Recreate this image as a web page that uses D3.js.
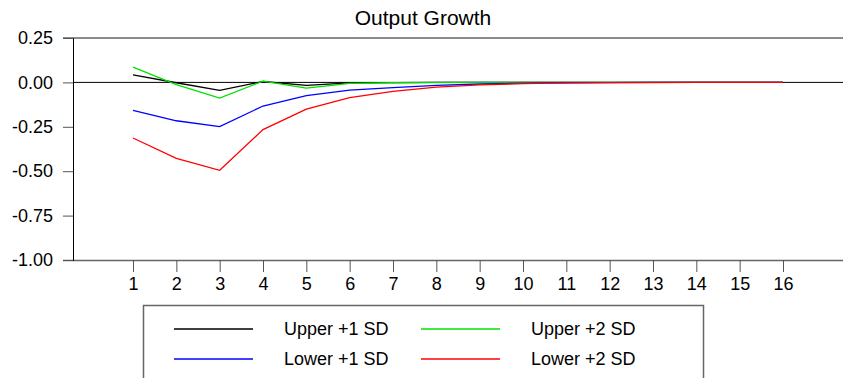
<!DOCTYPE html>
<html>
<head>
<meta charset="utf-8">
<script src="https://cdn.jsdelivr.net/npm/d3@7"></script>
<style>
	body { margin: 0; background: #fff; }
	text { font-family: "Liberation Sans", Arial, sans-serif; fill: #000; }
</style>
</head>
<body>
<div id="chart"></div>
<script>
var periods = [1, 2, 3, 4, 5, 6, 7, 8, 9, 10, 11, 12, 13, 14, 15, 16];
var yTicks = [0.25, 0, -0.25, -0.5, -0.75, -1];
var upper1 = [0.042, -0.002, -0.045, 0.005, -0.017, -0.003, -0.001, 0, 0, 0, 0, 0, 0, 0, 0, 0];
var upper2 = [0.086, -0.012, -0.088, 0.007, -0.032, -0.006, -0.002, -0.001, 0, 0, 0, 0, 0, 0, 0, 0];
var lower1 = [-0.158, -0.216, -0.249, -0.133, -0.075, -0.043, -0.029, -0.017, -0.009, -0.004, -0.002, -0.001, 0, 0, 0, 0];
var lower2 = [-0.313, -0.428, -0.495, -0.266, -0.150, -0.086, -0.050, -0.027, -0.014, -0.007, -0.003, -0.001, -0.001, 0, 0, 0];
var seriesNames = ["Upper +1 SD", "Upper +2 SD", "Lower +1 SD", "Lower +2 SD"];

(function() {
	"use strict";

	var chartWidth = 843,
		chartHeight = 378,
		colors = ["#000000", "#00e000", "#0000ff", "#ff0000"],
		series = [upper1, upper2, lower1, lower2],
		pad = 1.385;

	var svg = d3.select("#chart")
		.append("svg")
		.attr("width", chartWidth)
		.attr("height", chartHeight);

	var x = d3.scaleLinear().domain([1 - pad, 16 + pad]).range([73, 843]),
		y = d3.scaleLinear().domain([-1, 0.25]).range([260, 38]);

	// title
	svg.append("text")
		.attr("x", 423)
		.attr("y", 25)
		.attr("text-anchor", "middle")
		.style("font-size", "21px")
		.text("Output Growth");

	// frame lines
	svg.append("line")
		.attr("x1", 63).attr("x2", 843)
		.attr("y1", y(0.25)).attr("y2", y(0.25))
		.style("stroke", "#666").style("stroke-width", 1.5);
	svg.append("line")
		.attr("x1", 73).attr("x2", 843)
		.attr("y1", y(0)).attr("y2", y(0))
		.style("stroke", "#000").style("stroke-width", 1);

	// y axis
	var yAxis = svg.append("g")
		.attr("transform", "translate(73,0)")
		.call(d3.axisLeft(y).tickValues(yTicks).tickSize(10).tickPadding(10)
			.tickFormat(d3.format(".2f")));
	yAxis.select(".domain").style("stroke", "#000");
	yAxis.selectAll(".tick line").style("stroke", "#555");
	yAxis.selectAll("text")
		.style("font-size", "18px")
		.attr("font-family", null)
		.text(function(d) { return d3.format(".2f")(d).replace("−", "-"); });

	// x axis
	var xAxis = svg.append("g")
		.attr("transform", "translate(0," + y(-1) + ")")
		.call(d3.axisBottom(x).tickValues(periods).tickSize(12).tickPadding(5)
			.tickFormat(d3.format("d")));
	xAxis.select(".domain").attr("d", "M63,0.5H843").style("stroke", "#666").style("stroke-width", 1.5);
	xAxis.selectAll(".tick line").style("stroke", "#555");
	xAxis.selectAll("text")
		.style("font-size", "18px")
		.attr("font-family", null);
	// redraw y domain on top of bottom axis start
	yAxis.raise();

	var line = d3.line()
		.x(function(d, i) { return x(periods[i]); })
		.y(function(d) { return y(d); });

	svg.selectAll(".series")
		.data(series)
		.enter()
		.append("path")
		.attr("class", "series")
		.attr("d", line)
		.style("fill", "none")
		.style("stroke", function(d, i) { return colors[i]; })
		.style("stroke-width", 1.3);

	// legend
	var legendG = svg.append("g");
	legendG.append("rect")
		.attr("x", 143.5).attr("y", 305.5)
		.attr("width", 560).attr("height", 90)
		.style("fill", "none").style("stroke", "#666").style("stroke-width", 1.5);

	var legendPos = [
		{ lx: 174, tx: 284, ly: 329 },
		{ lx: 421, tx: 531, ly: 329 },
		{ lx: 174, tx: 284, ly: 359 },
		{ lx: 421, tx: 531, ly: 359 }
	];

	var items = legendG.selectAll(".item")
		.data(seriesNames)
		.enter()
		.append("g")
		.attr("class", "item");
	items.append("line")
		.attr("x1", function(d, i) { return legendPos[i].lx; })
		.attr("x2", function(d, i) { return legendPos[i].lx + 79; })
		.attr("y1", function(d, i) { return legendPos[i].ly; })
		.attr("y2", function(d, i) { return legendPos[i].ly; })
		.style("stroke", function(d, i) { return colors[i]; })
		.style("stroke-width", 1.3);
	items.append("text")
		.attr("x", function(d, i) { return legendPos[i].tx; })
		.attr("y", function(d, i) { return legendPos[i].ly + 6; })
		.style("font-size", "18px")
		.text(function(d) { return d; });
})();
</script>
</body>
</html>
